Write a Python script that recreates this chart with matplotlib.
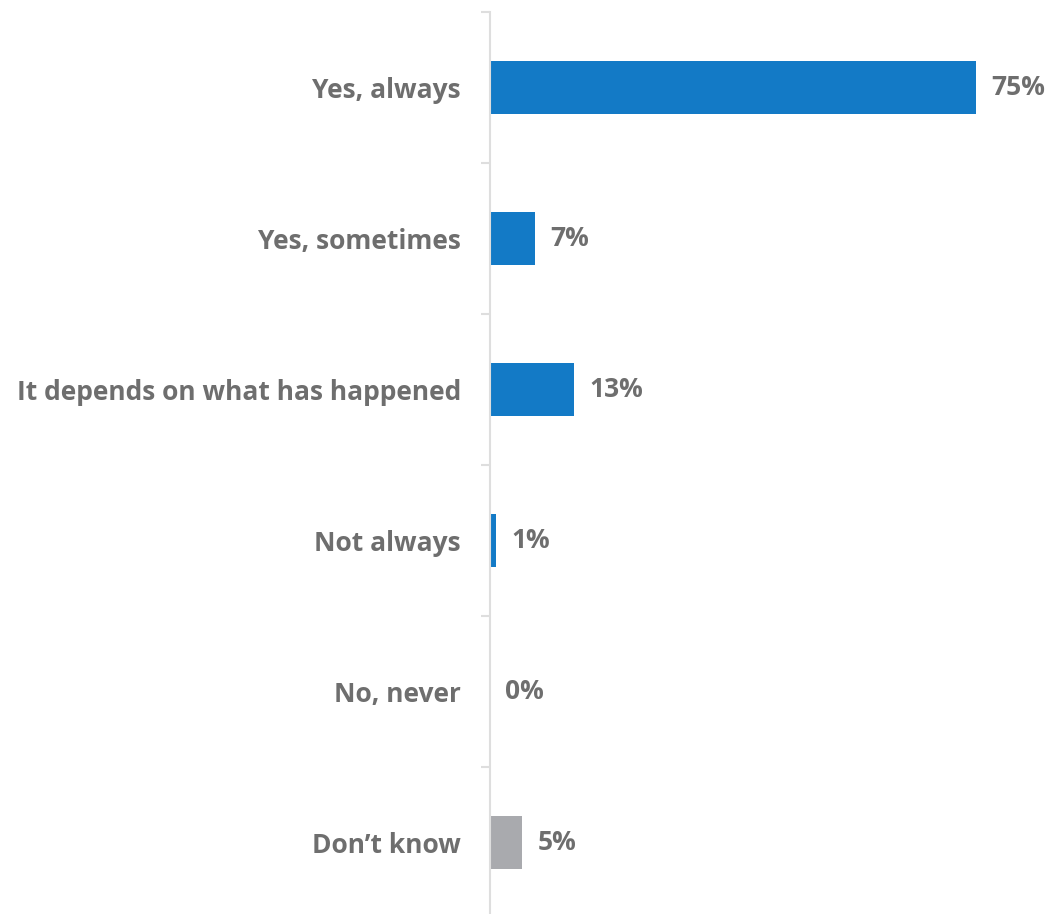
import numpy as np
import matplotlib.pyplot as plt

categories = ["Yes, always", "Yes, sometimes", "It depends on what has happened",
              "Not always", "No, never", "Don\u2019t know"]
values = [75, 7, 13, 1, 0, 5]
colors = ["#137AC6", "#137AC6", "#137AC6", "#137AC6", "#137AC6", "#A9AAAE"]

W, H = 1054, 914
fig = plt.figure(figsize=(W / 100, H / 100), dpi=100)
ax = fig.add_axes([490 / W, -4 / H, 560 / W, 906 / H])

y = np.arange(len(categories))
ax.barh(y, values, height=0.35, color=colors)
ax.set_ylim(len(categories) - 0.5, -0.5)
ax.set_xlim(0, 86.4)

txt = "#6E6E6E"
font = dict(family="Open Sans", weight="bold", size=19)
for yi, v in zip(y, values):
    ax.annotate(f"{v}%", (v, yi), xytext=(11, 0), textcoords="offset points",
                va="center", ha="left", color=txt, **font)

ax.set_yticks(y)
ax.set_yticklabels(categories, color=txt, **font)
ax.set_yticks(np.arange(-0.5, len(categories)), minor=True)
ax.tick_params(axis="y", which="major", length=0, pad=21)
ax.tick_params(axis="y", which="minor", length=6.5, width=1.5, color="#DEDEDE")
ax.set_xticks([])
for s in ["top", "right", "bottom"]:
    ax.spines[s].set_visible(False)
ax.spines["left"].set_color("#DEDEDE")
ax.spines["left"].set_linewidth(1.5)

fig.savefig("out.png", dpi=100)
